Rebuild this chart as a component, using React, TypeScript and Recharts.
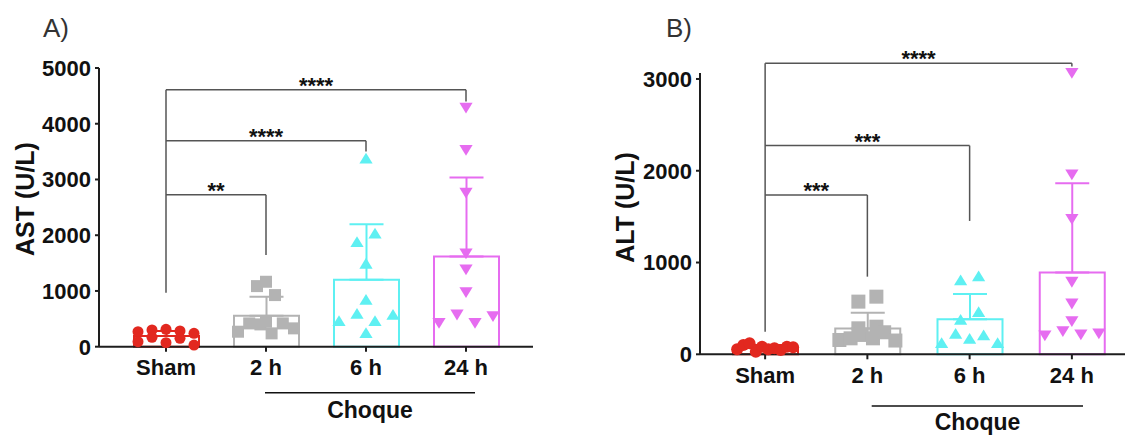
import React from 'react';
import {
  ComposedChart,
  Bar,
  Cell,
  ErrorBar,
  Scatter,
  XAxis,
  YAxis,
  ReferenceLine,
  Label,
} from 'recharts';

const groups = ['Sham', '2 h', '6 h', '24 h'];
const groupColors = ['#e2281f', '#b3b3b3', '#5ef0f2', '#e66cf0'];
const groupShapes = ['circle', 'square', 'triangle', 'triangleDown'];

// A) AST
const astSham = [269, 300, 312, 282, 240, 90, 168, 72, 150, 30];
const ast2h = [1165, 1087, 926, 448, 269, 418, 400, 239, 418, 329];
const ast6h = [3383, 1886, 2036, 1497, 850, 467, 599, 467, 581, 251];
const ast24h = [4281, 3521, 2754, 1665, 1377, 970, 419, 569, 419, 539];
const astMean = [191, 555, 1200, 1617];
const astSd = [90, 343, 998, 1419];
const astTicks = [0, 1000, 2000, 3000, 4000, 5000];
const astBrackets = [
  { to: 1, y: 2725, drop: 1647, stars: '**' },
  { to: 2, y: 3695, drop: 3500, stars: '****' },
  { to: 3, y: 4611, drop: 4400, stars: '****' },
];
const astShamBase = 970;

// B) ALT
const altSham = [54, 101, 120, 28, 83, 54, 65, 47, 83, 76];
const alt2h = [156, 283, 174, 301, 574, 628, 211, 174, 240, 150];
const alt6h = [127, 229, 174, 211, 127, 381, 465, 810, 854];
const alt24h = [3060, 1954, 1471, 785, 548, 356, 200, 247, 211, 222];
const altMean = [71, 282, 381, 890];
const altSd = [30, 172, 276, 973];
const altTicks = [0, 1000, 2000, 3000];
const altBrackets = [
  { to: 1, y: 1736, drop: 846, stars: '***' },
  { to: 2, y: 2274, drop: 1453, stars: '***' },
  { to: 3, y: 3171, drop: 3135, stars: '****' },
];
const altShamBase = 247;

const FONT = '"Liberation Sans", Arial, Helvetica, sans-serif';
const AXIS = '#1e1e1e';
const BRACKET = '#555';

// GraphPad-like scatter layout: points close in value share a row, spread symmetrically
function swarm(values: number[], pxPerUnit: number, rowHeight = 10, step = 18, maxSpread = 56) {
  const order = values.map((_, i) => i).sort((a, b) => values[a] - values[b]);
  const dx = values.map(() => 0);
  let row: number[] = [];
  const flush = () => {
    const idx = [...row].sort((a, b) => a - b);
    const n = idx.length;
    const s = n > 1 ? Math.min(step, maxSpread / (n - 1)) : 0;
    idx.forEach((id, k) => {
      dx[id] = (k - (n - 1) / 2) * s;
    });
    row = [];
  };
  order.forEach((i) => {
    if (row.length && (values[i] - values[row[0]]) * pxPerUnit > rowHeight) flush();
    row.push(i);
  });
  if (row.length) flush();
  return dx;
}

function markerShape(kind: string, size: number, color: string) {
  return (props: any) => {
    const { cx, cy, payload } = props;
    if (cx == null || cy == null) return <g />;
    const x = cx + (payload?.dx || 0);
    const y = cy;
    const h = size / 2;
    if (kind === 'circle') return <circle cx={x} cy={y} r={h} fill={color} />;
    if (kind === 'square')
      return <rect x={x - h} y={y - h} width={size} height={size} fill={color} />;
    const w = size * 0.55;
    const t = size * 0.45;
    const pts =
      kind === 'triangle'
        ? `${x},${y - t} ${x - w},${y + t} ${x + w},${y + t}`
        : `${x},${y + t} ${x - w},${y - t} ${x + w},${y - t}`;
    return <polygon points={pts} fill={color} />;
  };
}

type PanelProps = {
  title: string;
  values: number[][];
  mean: number[];
  sd: number[];
  ticks: number[];
  yMax: number;
  brackets: { to: number; y: number; drop: number; stars: string }[];
  shamBase: number;
  left: number;
  width: number;
  margin: { top: number; right: number; bottom: number; left: number };
  pad: number;
  titlePos: [number, number];
  sizes: number[];
};

function Panel(p: PanelProps) {
  const plotH = 436 - p.margin.top - p.margin.bottom - 30;
  const pxPerUnit = plotH / p.yMax;
  const rows = groups.map((g, i) => ({ cat: g, mean: p.mean[i], sd: p.sd[i], gi: i }));
  const topBracket = Math.max(...p.brackets.map((b) => b.y));

  return (
    <div style={{ position: 'absolute', left: p.left, top: 0 }}>
      <ComposedChart width={p.width} height={436} data={rows} margin={p.margin}>
        <XAxis
          dataKey="cat"
          interval={0}
          height={30}
          padding={{ left: p.pad, right: p.pad }}
          tickSize={5}
          tickMargin={8}
          axisLine={{ stroke: AXIS, strokeWidth: 2 }}
          tickLine={{ stroke: AXIS, strokeWidth: 2 }}
          tick={{ fill: '#111', fontSize: 22, fontWeight: 700, fontFamily: FONT }}
        />
        <XAxis
          xAxisId="num"
          type="number"
          dataKey="x"
          domain={[-0.5, 3.5]}
          padding={{ left: p.pad, right: p.pad }}
          hide
        />
        <YAxis
          domain={[0, p.yMax]}
          ticks={p.ticks}
          interval={0}
          width={70}
          tickSize={4}
          tickMargin={4}
          axisLine={{ stroke: AXIS, strokeWidth: 2 }}
          tickLine={{ stroke: AXIS, strokeWidth: 2 }}
          tick={{ fill: '#111', fontSize: 22, fontWeight: 700, fontFamily: FONT }}
        >
          <Label
            content={() => (
              <text
                transform={`translate(${p.titlePos[0]},${p.titlePos[1]}) rotate(-90)`}
                textAnchor="middle"
                fontSize={25}
                fontWeight={700}
                fontFamily={FONT}
                fill="#111"
              >
                {p.title}
              </text>
            )}
          />
        </YAxis>
        <Bar dataKey="mean" barSize={65} fill="none" strokeWidth={2} isAnimationActive={false}>
          {rows.map((r) => (
            <Cell key={r.cat} stroke={groupColors[r.gi]} />
          ))}
          {groups.map((g, i) => (
            <ErrorBar
              key={g}
              dataKey={(d: any) => (d.gi === i ? [0, d.sd] : undefined)}
              direction="y"
              width={17}
              stroke={groupColors[i]}
              strokeWidth={2}
              isAnimationActive={false}
            />
          ))}
        </Bar>
        {groups.map((g, i) => {
          const dx = swarm(p.values[i], pxPerUnit);
          const pts = p.values[i].map((v, k) => ({ x: i, y: v, dx: dx[k] }));
          return (
            <Scatter
              key={g}
              xAxisId="num"
              data={pts}
              dataKey="y"
              isAnimationActive={false}
              shape={markerShape(groupShapes[i], p.sizes[i], groupColors[i])}
            />
          );
        })}
        <ReferenceLine
          xAxisId="num"
          ifOverflow="visible"
          segment={[
            { x: 0, y: p.shamBase },
            { x: 0, y: topBracket },
          ]}
          stroke={BRACKET}
          strokeWidth={1.5}
        />
        {p.brackets.map((b) => (
          <ReferenceLine
            key={`h${b.to}`}
            xAxisId="num"
            ifOverflow="visible"
            segment={[
              { x: 0, y: b.y },
              { x: b.to, y: b.y },
            ]}
            stroke={BRACKET}
            strokeWidth={1.5}
            label={{
              value: b.stars,
              position: 'top',
              offset: -3,
              fill: '#111',
              fontSize: 22,
              fontWeight: 700,
              fontFamily: FONT,
            }}
          />
        ))}
        {p.brackets.map((b) => (
          <ReferenceLine
            key={`v${b.to}`}
            xAxisId="num"
            ifOverflow="visible"
            segment={[
              { x: b.to, y: b.y },
              { x: b.to, y: b.drop },
            ]}
            stroke={BRACKET}
            strokeWidth={1.5}
          />
        ))}
      </ComposedChart>
    </div>
  );
}

export default function App() {
  return (
    <div
      style={{
        position: 'relative',
        width: 1125,
        height: 436,
        overflow: 'hidden',
        background: '#fff',
        fontFamily: FONT,
      }}
    >
      <style>{'body{margin:0}'}</style>
      <Panel
        title="AST (U/L)"
        values={[astSham, ast2h, ast6h, ast24h]}
        mean={astMean}
        sd={astSd}
        ticks={astTicks}
        yMax={5000}
        brackets={astBrackets}
        shamBase={astShamBase}
        left={0}
        width={545}
        margin={{ top: 68, right: 12, bottom: 59.3, left: 29 }}
        pad={17}
        titlePos={[33.5, 199]}
        sizes={[11, 12, 12, 12]}
      />
      <Panel
        title="ALT (U/L)"
        values={[altSham, alt2h, alt6h, alt24h]}
        mean={altMean}
        sd={altSd}
        ticks={altTicks}
        yMax={3065}
        brackets={altBrackets}
        shamBase={altShamBase}
        left={560}
        width={577}
        margin={{ top: 73, right: 0, bottom: 51.7, left: 70 }}
        pad={14}
        titlePos={[74, 207.5]}
        sizes={[12, 14, 12, 12]}
      />
      <svg
        width={1125}
        height={436}
        style={{ position: 'absolute', left: 0, top: 0, pointerEvents: 'none' }}
      >
        <text x={43} y={36.7} fontSize={26} fontFamily={FONT} fill="#333">
          A)
        </text>
        <text x={666} y={36.7} fontSize={26} fontFamily={FONT} fill="#333">
          B)
        </text>
        <line x1={265} x2={475} y1={392.7} y2={392.7} stroke="#111" strokeWidth={1.5} />
        <text x={370} y={418} textAnchor="middle" fontSize={23} fontWeight={700} fontFamily={FONT} fill="#111">
          Choque
        </text>
        <line x1={871.7} x2={1083} y1={406} y2={406} stroke="#111" strokeWidth={1.5} />
        <text x={977.5} y={430} textAnchor="middle" fontSize={23} fontWeight={700} fontFamily={FONT} fill="#111">
          Choque
        </text>
      </svg>
    </div>
  );
}
